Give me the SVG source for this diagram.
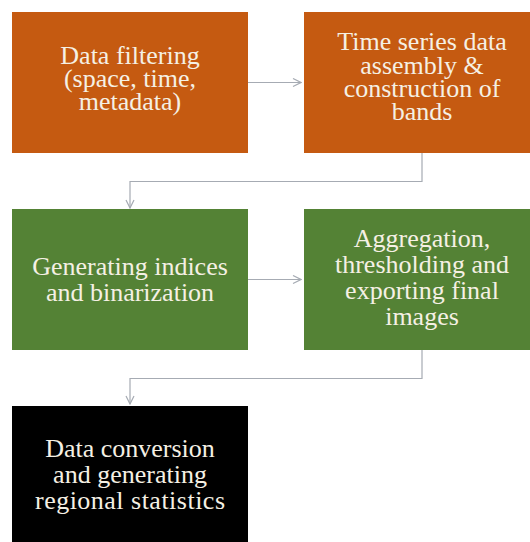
<svg xmlns="http://www.w3.org/2000/svg" width="530" height="542" viewBox="0 0 530 542">
<style>
.t{font-family:'Liberation Serif','DejaVu Serif',serif;font-size:26px;fill:#F5F0E4;text-anchor:middle}
.c{fill:none;stroke:#A6ABB3;stroke-width:1.2}
</style>
<defs>
<marker id="a" viewBox="0 0 10 10" refX="9" refY="5" markerWidth="10" markerHeight="10" markerUnits="userSpaceOnUse" orient="auto">
<path d="M1,1 L9,5 L1,9" fill="none" stroke="#A6ABB3" stroke-width="1.2"/>
</marker>
</defs>
<rect width="530" height="542" fill="#fff"/>
<g id="connectors">
<path class="c" d="M248,82.5 H301" marker-end="url(#a)"/>
<path class="c" d="M422,153 V181.5 H130 V208" marker-end="url(#a)"/>
<path class="c" d="M248,279.5 H301" marker-end="url(#a)"/>
<path class="c" d="M422,350 V378.5 H130 V404" marker-end="url(#a)"/>
</g>
<g id="n1">
<rect x="12" y="12" width="236" height="141" fill="#C55A11"/>
<text class="t" x="130" y="63.5">Data filtering</text>
<text class="t" x="130" y="87">(space, time,</text>
<text class="t" x="130" y="110">metadata)</text>
</g>
<g id="n2">
<rect x="304" y="12" width="236" height="141" fill="#C55A11"/>
<text class="t" x="422" y="50">Time series data</text>
<text class="t" x="422" y="73.5">assembly &amp;</text>
<text class="t" x="422" y="97">construction of</text>
<text class="t" x="422" y="120">bands</text>
</g>
<g id="n3">
<rect x="12" y="209" width="236" height="141" fill="#548235"/>
<text class="t" x="130" y="275">Generating indices</text>
<text class="t" x="130" y="301">and binarization</text>
</g>
<g id="n4">
<rect x="304" y="209" width="236" height="141" fill="#548235"/>
<text class="t" x="422" y="247">Aggregation,</text>
<text class="t" x="422" y="273">thresholding and</text>
<text class="t" x="422" y="299">exporting final</text>
<text class="t" x="422" y="325">images</text>
</g>
<g id="n5">
<rect x="12" y="406" width="236" height="141" fill="#000"/>
<text class="t" x="130" y="457">Data conversion</text>
<text class="t" x="130" y="483">and generating</text>
<text class="t" x="130" y="509" textLength="190">regional statistics</text>
</g>
</svg>
